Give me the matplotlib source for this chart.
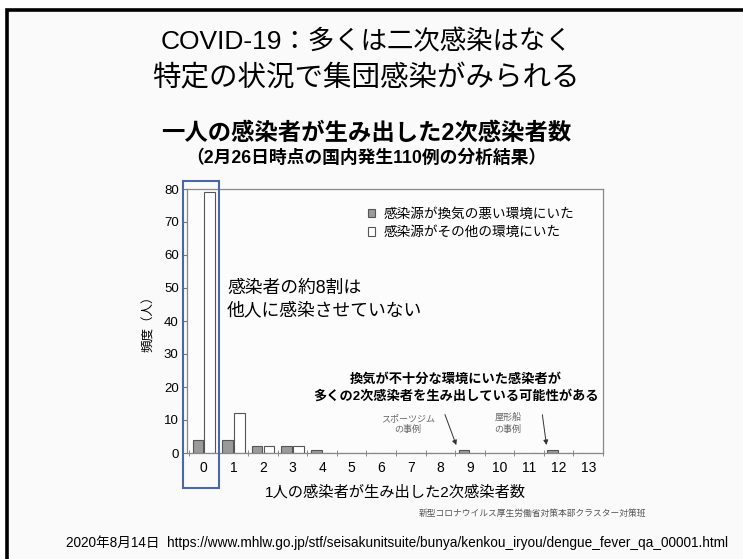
import numpy as np
import matplotlib
matplotlib.use("Agg")
import matplotlib.pyplot as plt
import matplotlib.patches as patches

plt.rcParams['font.family'] = ['Liberation Sans', 'Noto Sans CJK JP']

# データ: 1人の感染者が生み出した2次感染者数の頻度
secondary = np.arange(14)
bad_ventilation = [4, 4, 2, 2, 1, 0, 0, 0, 0, 1, 0, 0, 1, 0]
other_env = [79, 12, 2, 2, 0, 0, 0, 0, 0, 0, 0, 0, 0, 0]
legend_labels = ['感染源が換気の悪い環境にいた', '感染源がその他の環境にいた']

W, H = 743, 559

def fx(px):
    return px / W

def fy(py):
    return 1 - py / H

fig = plt.figure(figsize=(W / 100, H / 100), dpi=100, facecolor='white')

# スライドの枠
frame = patches.Rectangle((fx(7), -0.05), 1.2, fy(10) + 0.05, transform=fig.transFigure,
                          facecolor='#fafafa', edgecolor='black', linewidth=2.6, zorder=0)
fig.add_artist(frame)

ax = fig.add_axes([fx(187), fy(453), fx(603) - fx(187), fy(189) - fy(453)])
ax.set_facecolor('#fcfcfc')

w = 0.36
ax.bar(secondary - 0.2, bad_ventilation, width=w, color='#9a9a9a', edgecolor='#555555',
       linewidth=0.8, label=legend_labels[0])
ax.bar(secondary + 0.2, other_env, width=w, color='white', edgecolor='#555555',
       linewidth=0.8, label=legend_labels[1])

ax.set_xlim(-0.57, 13.47)
ax.set_ylim(0, 80)
ax.set_yticks(range(0, 81, 10))
ax.set_xticks(secondary)
ax.set_xticks(np.arange(-0.5, 13.6, 1), minor=True)
ax.tick_params(axis='x', which='major', length=0, labelsize=10, pad=6)
ax.tick_params(axis='x', which='minor', length=5, direction='inout', color='#777777')
ax.tick_params(axis='y', length=3, color='#777777', labelsize=9.5, pad=3)
for s in ax.spines.values():
    s.set_color('#888888')
    s.set_linewidth(0.9)

ax.set_ylabel('頻度（人）', fontsize=9, labelpad=6)
ax.set_xlabel('1人の感染者が生み出した2次感染者数', fontsize=11, labelpad=7)

ax.legend(loc='upper left', bbox_to_anchor=(0.405, 0.98), frameon=False, fontsize=9.8,
          handlelength=0.55, handleheight=0.55, handletextpad=0.6, labelspacing=0.35)

# 0の列を囲む青い枠
box = patches.Rectangle((fx(183), fy(488)), fx(219) - fx(183), fy(181) - fy(488),
                        transform=fig.transFigure, fill=False, edgecolor='#4a68a8',
                        linewidth=1.5, zorder=5)
fig.add_artist(box)

# タイトル
fig.text(0.493, fy(42), 'COVID-19：多くは二次感染はなく', ha='center', va='center', fontsize=19)
fig.text(0.493, fy(79), '特定の状況で集団感染がみられる', ha='center', va='center', fontsize=20.5)
fig.text(0.493, fy(133), '一人の感染者が生み出した2次感染者数', ha='center', va='center',
         fontsize=16.8, fontweight='bold')
fig.text(0.493, fy(158), '（2月26日時点の国内発生110例の分析結果）', ha='center', va='center',
         fontsize=12.8, fontweight='bold')

# 注釈
fig.text(fx(227), fy(300), '感染者の約8割は\n他人に感染させていない', ha='left', va='center',
         fontsize=12.8, linespacing=1.4)
fig.text(fx(456), fy(388), '換気が不十分な環境にいた感染者が\n多くの2次感染者を生み出している可能性がある',
         ha='center', va='center', fontsize=9.5, fontweight='bold', linespacing=1.4)
fig.text(fx(408), fy(424), 'スポーツジム\nの事例', ha='center', va='center', fontsize=6.5,
         color='#666666', linespacing=1.3)
fig.text(fx(508), fy(424), '屋形船\nの事例', ha='center', va='center', fontsize=6.5,
         color='#666666', linespacing=1.3)
ax.annotate('', xy=(9 - 0.43, 1.6), xytext=(fx(444), fy(412)), textcoords='figure fraction',
            arrowprops=dict(arrowstyle='-|>', color='#333333', lw=0.7, mutation_scale=7))
ax.annotate('', xy=(12 - 0.4, 1.6), xytext=(fx(542), fy(412)), textcoords='figure fraction',
            arrowprops=dict(arrowstyle='-|>', color='#333333', lw=0.7, mutation_scale=7))

fig.text(fx(533), fy(513), '新型コロナウイルス厚生労働省対策本部クラスター対策班', ha='center',
         va='center', fontsize=6.3, color='#555555')
fig.text(fx(397), fy(543),
         '2020年8月14日  https://www.mhlw.go.jp/stf/seisakunitsuite/bunya/kenkou_iryou/dengue_fever_qa_00001.html',
         ha='center', va='center', fontsize=9.8)

fig.savefig('out.png', dpi=100, facecolor=fig.get_facecolor())
